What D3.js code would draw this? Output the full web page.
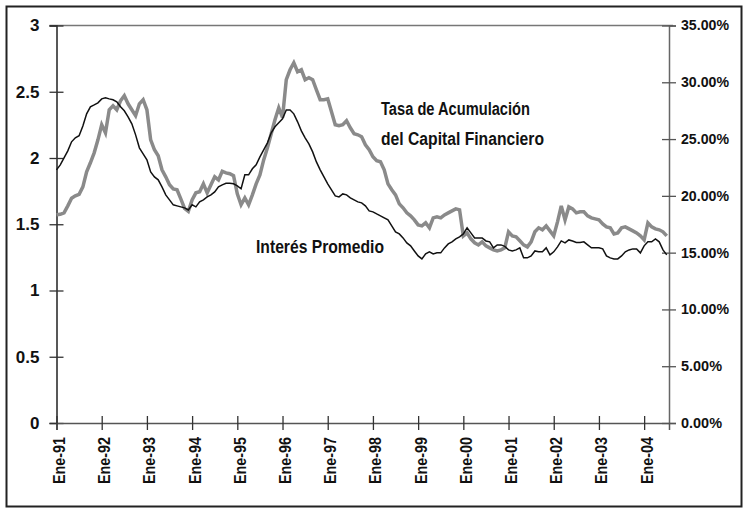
<!DOCTYPE html>
<html>
<head>
<meta charset="utf-8">
<script src="https://cdn.jsdelivr.net/npm/d3@7"></script>
<style>
  body { margin: 0; background: #fff; }
  text { font-family: "Liberation Sans Narrow", "Arial Narrow", "Liberation Sans", sans-serif; font-weight: bold; fill: #111; }
</style>
</head>
<body>
<svg width="749" height="512"></svg>
<script>
// years shown on the axis (every January)
var years = ["91", "92", "93", "94", "95", "96", "97", "98", "99", "00", "01", "02", "03", "04"];

// Tasa de Acumulación del Capital Financiero, monthly Ene-91 .. Jul-04 (left axis)
var tasa = [
  1.571, 1.575, 1.586, 1.639, 1.696, 1.714, 1.726, 1.782, 1.896, 1.964, 2.039, 2.137,
  2.251, 2.190, 2.364, 2.394, 2.364, 2.432, 2.470, 2.409, 2.364, 2.319, 2.409, 2.440,
  2.364, 2.137, 2.062, 2.017, 1.911, 1.858, 1.798, 1.767, 1.760, 1.692, 1.620, 1.597,
  1.684, 1.737, 1.745, 1.805, 1.737, 1.798, 1.858, 1.835, 1.900, 1.888, 1.881, 1.866,
  1.730, 1.647, 1.699, 1.647, 1.722, 1.805, 1.873, 1.986, 2.077, 2.183, 2.289, 2.379,
  2.304, 2.591, 2.666, 2.719, 2.651, 2.666, 2.591, 2.606, 2.591, 2.515, 2.440, 2.440,
  2.447, 2.349, 2.251, 2.243, 2.251, 2.281, 2.228, 2.183, 2.175, 2.160, 2.100, 2.062,
  2.009, 1.979, 1.971, 1.911, 1.805, 1.760, 1.722, 1.654, 1.624, 1.586, 1.563, 1.533,
  1.495, 1.488, 1.511, 1.473, 1.548, 1.556, 1.548, 1.571, 1.586, 1.601, 1.616, 1.609,
  1.412, 1.435, 1.390, 1.360, 1.344, 1.367, 1.337, 1.322, 1.307, 1.299, 1.307, 1.322,
  1.443, 1.412, 1.405, 1.375, 1.344, 1.329, 1.367, 1.443, 1.473, 1.458, 1.488, 1.450,
  1.412, 1.518, 1.639, 1.533, 1.631, 1.616, 1.586, 1.594, 1.594, 1.563, 1.548, 1.541,
  1.533, 1.503, 1.480, 1.473, 1.427, 1.435, 1.473, 1.480, 1.465, 1.450, 1.435, 1.412,
  1.382, 1.511, 1.480, 1.465, 1.458, 1.443, 1.412
];

// Interés Promedio, monthly Ene-91 .. Jul-04, in percent (right axis)
var interes = [
  22.29, 22.73, 23.35, 23.96, 24.76, 25.11, 25.29, 26.16, 27.22, 27.84, 28.01, 28.19,
  28.54, 28.63, 28.54, 28.46, 28.28, 27.84, 27.49, 26.96, 26.34, 25.37, 24.23, 23.70,
  23.17, 22.11, 21.67, 21.41, 20.79, 20.09, 19.65, 19.21, 19.12, 19.03, 18.94, 18.76,
  19.21, 19.03, 19.47, 19.65, 19.91, 20.09, 20.35, 20.79, 20.97, 21.10, 21.10, 21.06,
  20.88, 20.62, 21.85, 21.85, 22.38, 22.73, 23.43, 24.05, 24.67, 25.55, 26.08, 26.43,
  26.78, 27.57, 27.57, 27.22, 26.52, 25.72, 25.11, 24.58, 23.87, 22.99, 22.29, 21.67,
  21.06, 20.53, 20.00, 19.91, 20.17, 20.09, 19.82, 19.65, 19.47, 19.38, 19.12, 18.68,
  18.59, 18.41, 18.24, 18.06, 17.88, 17.36, 16.83, 16.65, 16.30, 15.86, 15.60, 15.15,
  14.71, 14.45, 14.89, 15.07, 14.89, 14.98, 14.98, 15.42, 15.77, 15.95, 16.21, 16.39,
  16.65, 17.18, 16.74, 16.30, 16.30, 16.30, 16.03, 15.95, 15.42, 15.68, 15.68, 15.55,
  15.24, 15.15, 15.24, 15.42, 14.54, 14.54, 14.71, 15.15, 15.07, 15.07, 15.42, 14.80,
  15.07, 15.51, 16.03, 15.86, 16.12, 16.03, 15.90, 15.90, 15.95, 15.68, 15.42, 15.42,
  15.42, 15.33, 14.71, 14.54, 14.45, 14.45, 14.71, 15.07, 15.24, 15.33, 15.33, 14.98,
  15.60, 15.95, 15.95, 16.21, 15.95, 15.24, 14.80
];

var leftTicks = [0, 0.5, 1, 1.5, 2, 2.5, 3];
var rightTicks = [0, 0.05, 0.10, 0.15, 0.20, 0.25, 0.30, 0.35];

var margin = { top: 25.5, right: 80, bottom: 89, left: 56.5 };
var width = 669 - margin.left;
var height = 423 - margin.top;

var svg = d3.select("svg");

// outer frame
svg.append("rect")
  .attr("x", 6.5).attr("y", 6.5)
  .attr("width", 735).attr("height", 500)
  .attr("fill", "none")
  .attr("stroke", "#222")
  .attr("stroke-width", 2);

var g = svg.append("g")
  .attr("transform", "translate(" + margin.left + "," + margin.top + ")");

var x = d3.scaleLinear().domain([0, 162.6]).range([0, width]);
var yL = d3.scaleLinear().domain([0, 3]).range([height, 0]);
var yR = d3.scaleLinear().domain([0, 0.35]).range([height, 0]);

// top border of plot area
g.append("line")
  .attr("x1", -7).attr("x2", width + 4)
  .attr("y1", 0).attr("y2", 0)
  .attr("stroke", "#777").attr("stroke-width", 1.5);

var leftAxis = g.append("g")
  .call(d3.axisLeft(yL).tickValues(leftTicks).tickSize(7).tickPadding(10).tickFormat(d3.format("")));
leftAxis.selectAll(".tick line").attr("x1", 7).attr("stroke", "#333").attr("stroke-width", 1.3);
leftAxis.select(".domain").attr("stroke", "#222").attr("stroke-width", 1.5);
leftAxis.selectAll("text").style("font-size", "17px");

var rightAxis = g.append("g")
  .attr("transform", "translate(" + width + ",0)")
  .call(d3.axisRight(yR).tickValues(rightTicks).tickSize(7).tickPadding(5).tickFormat(d3.format(".2%")));
rightAxis.selectAll(".tick line").attr("x1", -7).attr("stroke", "#555").attr("stroke-width", 1.3);
rightAxis.select(".domain").attr("stroke", "#666").attr("stroke-width", 1.5);
rightAxis.selectAll("text")
  .style("font-size", "14px")
  .attr("textLength", function (d) { return d < 0.1 ? 41 : 48; })
  .attr("lengthAdjust", "spacingAndGlyphs");

var xAxis = g.append("g")
  .attr("transform", "translate(0," + height + ")")
  .call(d3.axisBottom(x)
    .tickValues(years.map(function (d, i) { return i * 12; }))
    .tickSize(7)
    .tickFormat(function (d, i) { return "Ene-" + years[i]; }));
xAxis.selectAll(".tick line").attr("y1", -7).attr("stroke", "#333").attr("stroke-width", 1.3);
xAxis.select(".domain").attr("stroke", "#555").attr("stroke-width", 1.5);
xAxis.selectAll("text")
  .style("font-size", "16px")
  .attr("text-anchor", "end")
  .attr("transform", "rotate(-90)")
  .attr("x", -14)
  .attr("y", 0)
  .attr("dy", "0.5em")
  .attr("textLength", 47)
  .attr("lengthAdjust", "spacingAndGlyphs");

var lineL = d3.line()
  .x(function (d, i) { return x(i); })
  .y(function (d) { return yL(d); });

var lineR = d3.line()
  .x(function (d, i) { return x(i); })
  .y(function (d) { return yR(d / 100); });

g.append("path")
  .datum(tasa)
  .attr("d", lineL)
  .attr("fill", "none")
  .attr("stroke", "#8a8a8a")
  .attr("stroke-width", 3.5)
  .attr("stroke-linejoin", "miter");

g.append("path")
  .datum(interes)
  .attr("d", lineR)
  .attr("fill", "none")
  .attr("stroke", "#111")
  .attr("stroke-width", 1.5);

// annotations
function note(xp, yp, len, txt) {
  svg.append("text")
    .attr("x", xp).attr("y", yp)
    .attr("textLength", len)
    .attr("lengthAdjust", "spacingAndGlyphs")
    .style("font-size", "18px")
    .text(txt);
}
note(381, 115, 149, "Tasa de Acumulación");
note(381, 145, 163, "del Capital Financiero");
note(256, 253, 128, "Interés Promedio");
</script>
</body>
</html>
